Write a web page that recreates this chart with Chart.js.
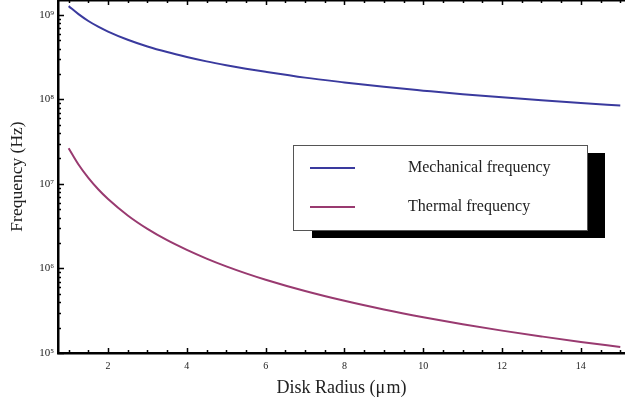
<!DOCTYPE html>
<html lang="en">
<head>
    <meta charset="UTF-8">
    <title>Disk frequency vs radius</title>
    <style>
        html, body { margin: 0; padding: 0; background: #fff; }
        #wrap { width: 625px; height: 407px; }
    </style>
</head>
<body>
    <div id="wrap"><canvas id="freqChart" width="625" height="407"></canvas></div>

    <script src="https://cdn.jsdelivr.net/npm/chart.js"></script>
    <script>
        // values
        const radius = [1, 1.25, 1.5, 1.75, 2, 2.5, 3, 3.5, 4, 4.5, 5, 5.5, 6, 7, 8, 9, 10, 11, 12, 13, 14, 15];
        const mechFreq = [1.27e9, 1.02e9, 8.47e8, 7.26e8, 6.35e8, 5.08e8, 4.23e8, 3.63e8, 3.18e8, 2.82e8, 2.54e8,
            2.31e8, 2.12e8, 1.81e8, 1.59e8, 1.41e8, 1.27e8, 1.15e8, 1.06e8, 9.77e7, 9.07e7, 8.47e7];
        const thermFreq = [2.65e7, 1.70e7, 1.18e7, 8.65e6, 6.63e6, 4.24e6, 2.94e6, 2.16e6, 1.66e6, 1.31e6, 1.06e6,
            8.76e5, 7.36e5, 5.41e5, 4.14e5, 3.27e5, 2.65e5, 2.19e5, 1.84e5, 1.57e5, 1.35e5, 1.18e5];

        const xTicks = [2, 4, 6, 8, 10, 12, 14];
        const xMinorStep = 0.5;
        const yTicks = [1e5, 1e6, 1e7, 1e8, 1e9];
        const yTickLabels = ['10\u2075', '10\u2076', '10\u2077', '10\u2078', '10\u2079'];
        const seriesNames = ['Mechanical frequency', 'Thermal frequency'];
        const seriesColors = ['rgb(58,58,158)', 'rgb(153,58,112)'];

        const serif = '"Liberation Serif", "Times New Roman", serif';

        // inward tick marks like the original frame
        const frameTicks = {
            id: 'frameTicks',
            afterDraw(chart) {
                const { ctx, chartArea: a, scales: { x, y } } = chart;
                ctx.save();
                ctx.strokeStyle = '#000';
                ctx.lineWidth = 1.5;
                ctx.beginPath();
                for (let v = 1; v <= x.max; v += xMinorStep) {
                    const px = Math.round(x.getPixelForValue(v)) + 0.5;
                    const len = xTicks.includes(v) ? 5 : 3;
                    ctx.moveTo(px, a.bottom); ctx.lineTo(px, a.bottom - len);
                    ctx.moveTo(px, a.top); ctx.lineTo(px, a.top + len);
                }
                for (let d = 1e5; d <= 1e9; d *= 10) {
                    for (let m = 1; m <= 9; m++) {
                        const v = d * m;
                        if (v > y.max) break;
                        const py = Math.round(y.getPixelForValue(v)) + 0.5;
                        const len = m === 1 ? 6 : 3;
                        ctx.moveTo(a.left, py); ctx.lineTo(a.left + len, py);
                    }
                }
                ctx.stroke();
                // top frame line
                ctx.lineWidth = 2;
                ctx.beginPath();
                ctx.moveTo(a.left, a.top + 0.5); ctx.lineTo(a.right, a.top + 0.5);
                ctx.stroke();
                ctx.restore();
            }
        };

        // boxed legend with a drop shadow
        const shadowLegend = {
            id: 'shadowLegend',
            afterDraw(chart) {
                const ctx = chart.ctx;
                const bx = 293, by = 145, bw = 294, bh = 85;
                ctx.save();
                ctx.fillStyle = '#000';
                ctx.fillRect(bx + 19, by + 8, bw - 1, bh);
                ctx.fillStyle = '#fff';
                ctx.fillRect(bx, by, bw, bh);
                ctx.strokeStyle = '#555';
                ctx.lineWidth = 1;
                ctx.strokeRect(bx + 0.5, by + 0.5, bw, bh);
                ctx.font = '16px ' + serif;
                ctx.textBaseline = 'middle';
                chart.data.datasets.forEach((ds, i) => {
                    const ly = by + 23 + i * 39;
                    ctx.strokeStyle = ds.borderColor;
                    ctx.lineWidth = 2;
                    ctx.beginPath();
                    ctx.moveTo(bx + 17, ly); ctx.lineTo(bx + 62, ly);
                    ctx.stroke();
                    ctx.fillStyle = '#222';
                    ctx.fillText(ds.label, bx + 115, ly);
                });
                ctx.restore();
            }
        };

        const ctx = document.getElementById('freqChart').getContext('2d');
        new Chart(ctx, {
            type: 'line',
            data: {
                datasets: [
                    {
                        label: seriesNames[0],
                        data: radius.map((r, i) => ({ x: r, y: mechFreq[i] })),
                        borderColor: seriesColors[0],
                        borderWidth: 2,
                        pointRadius: 0,
                        cubicInterpolationMode: 'monotone'
                    },
                    {
                        label: seriesNames[1],
                        data: radius.map((r, i) => ({ x: r, y: thermFreq[i] })),
                        borderColor: seriesColors[1],
                        borderWidth: 2,
                        pointRadius: 0,
                        cubicInterpolationMode: 'monotone'
                    }
                ]
            },
            options: {
                responsive: false,
                animation: false,
                layout: { padding: 0 },
                plugins: {
                    legend: { display: false },
                    tooltip: { enabled: false }
                },
                scales: {
                    x: {
                        type: 'linear',
                        min: 0.73,
                        max: 15.12,
                        afterFit: s => { s.height = 54; s.paddingRight = 0; s.paddingLeft = 0; },
                        afterBuildTicks: s => { s.ticks = xTicks.map(v => ({ value: v })); },
                        grid: { display: false, drawTicks: false },
                        border: { color: '#000', width: 2.5 },
                        ticks: {
                            color: '#222',
                            padding: 7,
                            maxRotation: 0,
                            font: { family: serif, size: 10 }
                        },
                        title: {
                            display: true,
                            text: 'Disk Radius (\u03bc\u200am)',
                            color: '#222',
                            font: { family: serif, size: 18 },
                            padding: { top: 0, bottom: 8 }
                        }
                    },
                    y: {
                        type: 'logarithmic',
                        min: 1e5,
                        max: 1.5e9,
                        afterFit: s => { s.width = 58; s.paddingTop = 0; s.paddingBottom = 0; },
                        afterBuildTicks: s => { s.ticks = yTicks.map(v => ({ value: v })); },
                        grid: { display: false, drawTicks: false },
                        border: { color: '#000', width: 2.5 },
                        ticks: {
                            color: '#222',
                            padding: 4,
                            font: { family: serif, size: 11 },
                            callback: (v, i) => yTickLabels[i]
                        },
                        title: {
                            display: true,
                            text: 'Frequency (Hz)',
                            color: '#222',
                            font: { family: serif, size: 17.5 },
                            padding: { top: 7, bottom: 0 }
                        }
                    }
                }
            },
            plugins: [frameTicks, shadowLegend]
        });
    </script>
</body>
</html>
